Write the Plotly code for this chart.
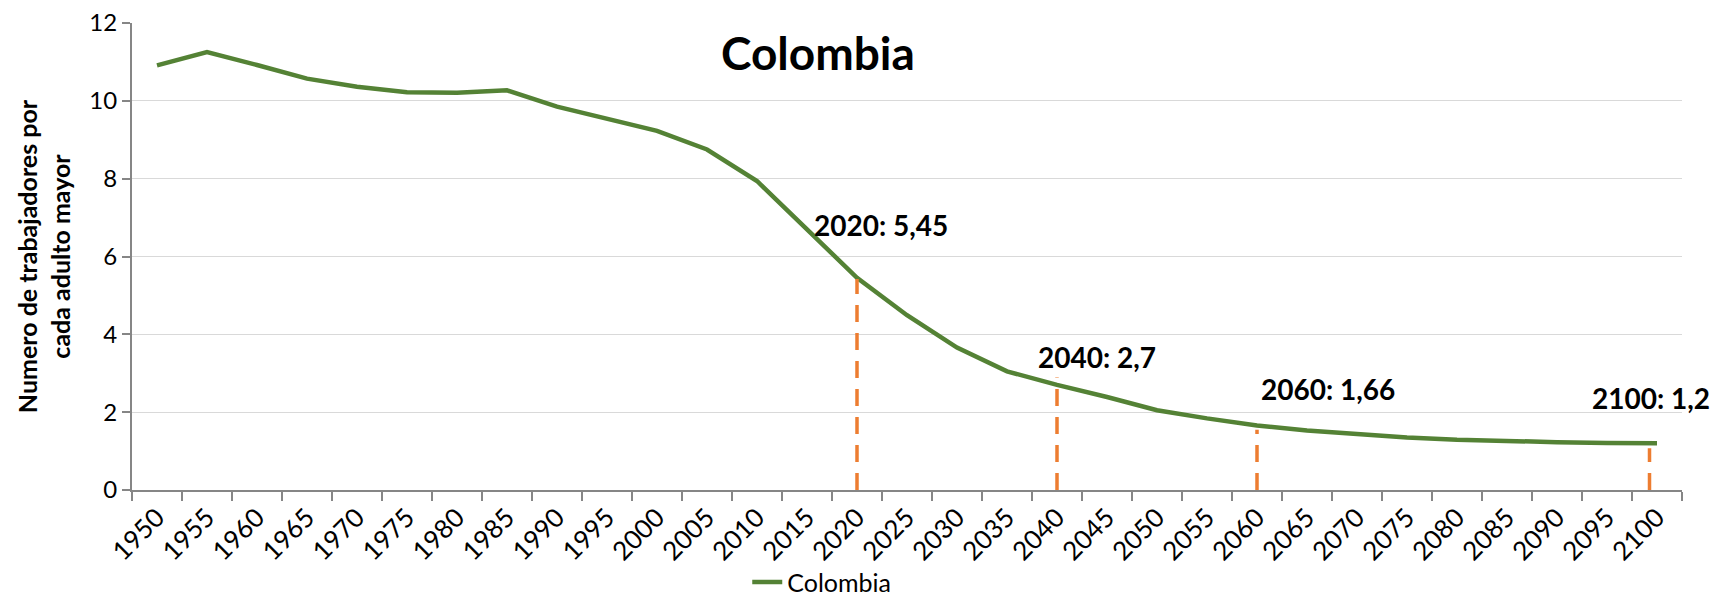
import plotly.graph_objects as go

years = ["1950", "1955", "1960", "1965", "1970", "1975", "1980", "1985", "1990", "1995",
         "2000", "2005", "2010", "2015", "2020", "2025", "2030", "2035", "2040", "2045",
         "2050", "2055", "2060", "2065", "2070", "2075", "2080", "2085", "2090", "2095", "2100"]
colombia = [10.91, 11.25, 10.92, 10.57, 10.36, 10.22, 10.21, 10.27, 9.85, 9.55,
            9.23, 8.75, 7.94, 6.70, 5.45, 4.49, 3.66, 3.05, 2.70, 2.39,
            2.05, 1.84, 1.66, 1.53, 1.43, 1.35, 1.29, 1.25, 1.23, 1.21, 1.20]

marker_years = ["2020", "2040", "2060", "2100"]
marker_tops = [5.42, 2.89, 1.55, 1.07]
marker_labels = ["2020: 5,45", "2040: 2,7", "2060: 1,66", "2100: 1,2"]

FONT = "Lato, 'Open Sans', sans-serif"
GREEN = "#548235"
ORANGE = "#ED7D31"
AXIS = "#868686"

fig = go.Figure()
fig.add_trace(go.Scatter(
    x=years, y=colombia, mode="lines", name="Colombia",
    line=dict(color=GREEN, width=4.5),
))

label_dx = [0.48, 0.80, 1.42, -0.13]
label_y = [6.80, 3.42, 2.60, 2.37]
line_dx = [0.0, 0.0, 0.0, -0.15]
for yr, top, lbl, dx, ly, ldx in zip(marker_years, marker_tops, marker_labels, label_dx, label_y, line_dx):
    i = years.index(yr)
    fig.add_shape(type="line", xref="x", yref="y",
                  x0=i + ldx, x1=i + ldx, y0=0, y1=top,
                  line=dict(color=ORANGE, width=3.5, dash="17px,11px"))
    fig.add_annotation(x=i + dx, y=ly, xref="x", yref="y", text="<b>%s</b>" % lbl,
                       showarrow=False, font=dict(family=FONT, size=28, color="black"),
                       xanchor="center", yanchor="middle")

fig.add_annotation(x=13.21, y=11.25, xref="x", yref="y", text="<b>Colombia</b>",
                   showarrow=False, font=dict(family=FONT, size=46, color="black"),
                   xanchor="center", yanchor="middle")

fig.add_annotation(x=-0.057, y=0.5, xref="paper", yref="paper",
                   text="<b>Numero de trabajadores por<br>cada adulto mayor</b>",
                   textangle=-90, showarrow=False,
                   font=dict(family=FONT, size=25, color="black"),
                   xanchor="center", yanchor="middle")

fig.update_layout(
    width=1722, height=595,
    margin=dict(l=124, r=48, t=15, b=113, autoexpand=False),
    paper_bgcolor="white", plot_bgcolor="white",
    font=dict(family=FONT, size=25, color="black"),
    showlegend=True,
    legend=dict(orientation="h", x=0.445, xanchor="center", yref="container",
                y=0.035, yanchor="middle", font=dict(family=FONT, size=25, color="black"),
                bgcolor="rgba(0,0,0,0)"),
    xaxis=dict(type="category", tickangle=-45, tickson="boundaries", automargin=False,
               ticks="outside", ticklen=9, tickcolor=AXIS, tickwidth=1.5,
               showline=True, linecolor=AXIS, linewidth=2, showgrid=False,
               tickfont=dict(family=FONT, size=26, color="black"),
               range=[-0.5, 30.5]),
    yaxis=dict(range=[0, 12], dtick=2, ticks="outside", ticklen=8, tickcolor=AXIS,
               automargin=False, ticklabeloverflow="allow",
               tickwidth=1.5, showline=True, linecolor=AXIS, linewidth=2,
               showgrid=True, gridcolor="#d9d9d9", gridwidth=1.3, zeroline=False,
               tickfont=dict(family=FONT, size=24, color="black")),
)

fig.write_html("out.html")
